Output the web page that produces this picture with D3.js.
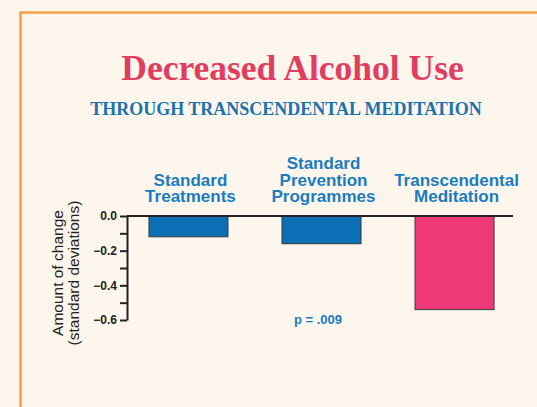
<!DOCTYPE html>
<html><head><meta charset="utf-8">
<script src="https://cdn.jsdelivr.net/npm/d3@7"></script>
<style>
html,body{margin:0;padding:0;background:#fdf6ec;}
svg{display:block;}
</style></head>
<body>
<script>
const categories = [["Standard","Treatments"],["Standard","Prevention","Programmes"],["Transcendental","Meditation"]];
const values = [-0.12, -0.16, -0.54];
const barColors = ["#0a6fb4", "#0a6fb4", "#ee3878"];
const majorTicks = [0, -0.2, -0.4, -0.6];
const minorTicks = [-0.1, -0.3, -0.5];
const titleText = "Decreased Alcohol Use";
const subtitleText = "THROUGH TRANSCENDENTAL MEDITATION";
const yTitle = ["Amount of change", "(standard deviations)"];
const pText = "p = .009";

const W = 537, H = 407;
const svg = d3.select("body").append("svg").attr("width", W).attr("height", H);
svg.append("rect").attr("width", W).attr("height", H).attr("fill", "#fdf6ec");
// orange frame
svg.append("path").attr("d", `M20.5,${H+5} V12.5 H${W+5}`).attr("fill","none").attr("stroke","#f6a045").attr("stroke-width",2.5);

svg.append("text").attr("x", 292.5).attr("y", 80).attr("text-anchor","middle")
  .attr("font-family","'Liberation Serif', serif").attr("font-weight","bold").attr("font-size",35.5)
  .attr("fill","#e23d5f").text(titleText);
svg.append("text").attr("x", 286).attr("y", 115).attr("text-anchor","middle")
  .attr("font-family","'Liberation Serif', serif").attr("font-weight","bold").attr("font-size",18)
  .attr("fill","#1a72b0").text(subtitleText);

const x0 = 127, x1 = 516;
const x = d3.scaleBand().domain(d3.range(values.length)).range([x0, x1]).paddingInner(0.406).paddingOuter(0.165);
const y = d3.scaleLinear().domain([0, -0.6]).range([216, 320]);

// bars
svg.selectAll("rect.bar").data(values).join("rect").attr("class","bar")
  .attr("x", (d,i)=>x(i)).attr("width", x.bandwidth())
  .attr("y", y(0)).attr("height", d=>y(d)-y(0))
  .attr("fill", (d,i)=>barColors[i]).attr("stroke","#3a3a3a").attr("stroke-width",1);

// y axis
const axis = d3.axisLeft(y).tickValues(majorTicks).tickFormat(d3.format(".1f")).tickSize(7).tickSizeOuter(0);
const gy = svg.append("g").attr("transform",`translate(${x0},0)`).call(axis);
gy.select(".domain").attr("stroke","#222").attr("stroke-width",2);
gy.selectAll(".tick line").attr("stroke","#222").attr("stroke-width",2);
gy.selectAll(".tick text").attr("font-family","'Liberation Sans', Arial, sans-serif").attr("font-weight","bold")
  .attr("font-size",12).attr("fill","#222").attr("x",-10);
const axisMinor = d3.axisLeft(y).tickValues(minorTicks).tickFormat("").tickSize(7).tickSizeOuter(0);
const gm = svg.append("g").attr("transform",`translate(${x0},0)`).call(axisMinor);
gm.select(".domain").remove();
gm.selectAll(".tick line").attr("stroke","#222").attr("stroke-width",2);

// zero line
svg.append("line").attr("x1", x0).attr("x2", 513).attr("y1", y(0)).attr("y2", y(0))
  .attr("stroke","#222").attr("stroke-width",2);

// category labels
const lh = 16.5;
categories.forEach((lines,i)=>{
  const t = svg.append("text").attr("text-anchor","middle")
    .attr("font-family","'Liberation Sans', Arial, sans-serif").attr("font-weight","bold").attr("font-size",17)
    .attr("fill","#1a7cc0");
  lines.forEach((ln,j)=>{
    t.append("tspan").attr("x", x(i)+x.bandwidth()/2+2).attr("y", 202 - (lines.length-1-j)*lh).text(ln);
  });
});

// y title
const yt = svg.append("text").attr("transform","translate(0,273) rotate(-90)").attr("text-anchor","middle")
  .attr("font-family","'Liberation Sans', Arial, sans-serif").attr("font-size",15.5).attr("fill","#222");
yTitle.forEach((ln,j)=>yt.append("tspan").attr("x",0).attr("y", 63 + j*16).text(ln));

// p value
svg.append("text").attr("x", 318).attr("y", 324).attr("text-anchor","middle")
  .attr("font-family","'Liberation Sans', Arial, sans-serif").attr("font-weight","bold").attr("font-size",13)
  .attr("fill","#1a7cc0").text(pText);
</script>
</body></html>
